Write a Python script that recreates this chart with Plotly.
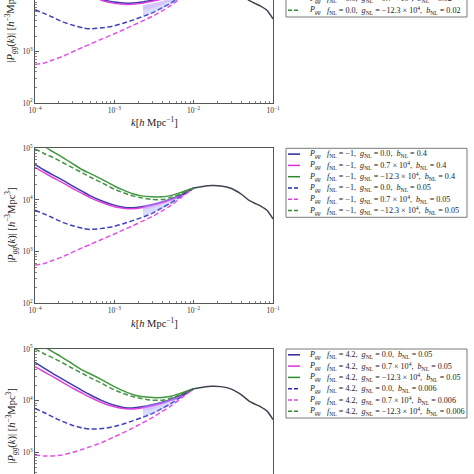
import plotly.graph_objects as go

# ---------------- data ----------------
k_low = [1.0e-4, 1.3e-4, 1.7e-4, 2.2e-4, 3e-4, 4e-4, 5e-4, 7e-4, 1e-3, 1.3e-3,
         1.7e-3, 2.2e-3, 3e-3, 4e-3, 5e-3, 7e-3, 1e-2]
k_high = [1e-2, 1.3e-2, 1.7e-2, 2.2e-2, 3e-2, 4e-2, 5e-2, 6e-2, 7e-2, 8.5e-2, 1e-1]
P_high = [17000, 18200, 19000, 18700, 16700, 12900, 9800, 8500, 7600, 6200, 4300]

k_band = [2.3e-3, 3e-3, 4e-3, 5e-3, 6e-3, 7e-3]
band_lo = [4790, 5500, 6760, 8130, 9550, 11700]
band_mid = [6310, 6920, 8130, 9330, 10700, 12300]
band_hi = [7940, 8510, 9550, 10700, 11700, 12600]

# panel 1 (f_NL = 0.0)
P1_sb = [58000, 45000, 35000, 27800, 21000, 16300, 13700, 10300, 9100, 8700, 8700, 9100, 9900, 10800, 11800, 13700, 17000]
P1_sm = [52000, 40300, 32000, 25300, 19200, 15000, 12500, 9800, 8600, 8250, 8250, 8600, 9500, 10400, 11300, 13400, 17000]
P1_sg = [150000, 116000, 90000, 71000, 53000, 40000, 34000, 26500, 19800, 16600, 14200, 13000, 12400, 12300, 12700, 14500, 17000]
P1_db = [6460, 5500, 4570, 3800, 3240, 2880, 2750, 2880, 3160, 3550, 4070, 4680, 5620, 7080, 8510, 12000, 17000]
P1_dm = [560, 600, 690, 800, 990, 1210, 1400, 1760, 2210, 2650, 3190, 3830, 4800, 6170, 7590, 11200, 17000]
P1_dg = [100000, 81000, 67000, 54500, 42000, 33300, 27700, 21500, 16500, 14000, 12300, 11300, 10600, 10500, 11200, 13300, 17000]

# panel 2 (f_NL = -1)
P2_sb = [49000, 38000, 30200, 24500, 18600, 14500, 12000, 9550, 7940, 7240, 7080, 7410, 8130, 9120, 10200, 12600, 17000]
P2_sm = [42700, 33900, 26900, 21900, 16600, 13200, 11000, 8910, 7410, 6920, 6760, 7080, 7940, 8910, 10000, 12300, 17000]
P2_sg = [141000, 110000, 85000, 67600, 50100, 38000, 32400, 25100, 18600, 15500, 13200, 12000, 11500, 11500, 12000, 14100, 17000]
P2_db = [6310, 5370, 4470, 3720, 3160, 2820, 2690, 2820, 3090, 3470, 3980, 4570, 5500, 7080, 8510, 12000, 17000]
P2_dm = [550, 590, 680, 790, 980, 1200, 1380, 1740, 2190, 2630, 3160, 3800, 4790, 6170, 7590, 11200, 17000]
P2_dg = [97700, 79400, 66100, 53700, 41700, 33100, 27500, 21400, 16200, 13800, 12000, 11000, 10200, 10200, 11000, 13200, 17000]

# panel 3 (f_NL = 4.2)
P3_sb = [55000, 42700, 33100, 26300, 20000, 15500, 12900, 10000, 8130, 7410, 7240, 7590, 8320, 9330, 10500, 12900, 17000]
P3_sm = [45700, 36300, 28800, 22900, 17400, 13800, 11500, 9120, 7590, 7080, 6920, 7240, 7940, 8910, 10000, 12300, 17000]
P3_sg = [145000, 112000, 87000, 69000, 51000, 38500, 32800, 25300, 18700, 15500, 13200, 12000, 11500, 11500, 12000, 14100, 17000]
P3_db = [7080, 5890, 4790, 3980, 3310, 2950, 2820, 2880, 3160, 3550, 4070, 4680, 5620, 7080, 8510, 12000, 17000]
P3_dm = [890, 850, 850, 890, 1000, 1150, 1290, 1550, 2000, 2400, 2950, 3630, 4680, 6170, 7590, 11200, 17000]
P3_dg = [100000, 81000, 67000, 54500, 42000, 33300, 27700, 21500, 16200, 13800, 12000, 11000, 10200, 10200, 11000, 13200, 17000]

fNL_labels = ["0.0", "\u22121", "4.2"]
gNL_labels = ["0.0", "0.7 \u00d7 10<sup>4</sup>", "\u221212.3 \u00d7 10<sup>4</sup>"] * 2
bNL_labels = [["0.16"] * 3 + ["0.02"] * 3,
              ["0.4"] * 3 + ["0.05"] * 3,
              ["0.05"] * 3 + ["0.006"] * 3]

x_ticks = [1e-4, 1e-3, 1e-2, 1e-1]
x_ticktext = ["10<sup>\u22124</sup>", "10<sup>\u22123</sup>", "10<sup>\u22122</sup>", "10<sup>\u22121</sup>"]
y_ticks = [1e2, 1e3, 1e4, 1e5]
y_ticktext = ["10<sup>2</sup>", "10<sup>3</sup>", "10<sup>4</sup>", "10<sup>5</sup>"]

# ---------------- layout helpers ----------------
W = H = 474
def px(x):
    return x / W
def py(y):
    return 1 - y / H

FONT = "Liberation Serif"
colors = ["#28289e", "#dd30dd", "#2e8b2e", "#2b2bb8", "#e040e0", "#2e8b2e"]
dashes = ["solid", "solid", "solid", "5px,2.6px", "5px,2.6px", "5px,2.6px"]

panels = [
    dict(series=[P1_sb, P1_sm, P1_sg, P1_db, P1_dm, P1_dg], ax="", top=-52.0, bottom=103.0,
         yrange=[2, 4.0], ydom=[py(103), 1.0]),
    dict(series=[P2_sb, P2_sm, P2_sg, P2_db, P2_dm, P2_dg], ax="2", top=148.3, bottom=303.3,
         yrange=[2, 5], ydom=[py(303.3), py(148.3)]),
    dict(series=[P3_sb, P3_sm, P3_sg, P3_db, P3_dm, P3_dg], ax="3", top=349.0, bottom=504.0,
         yrange=[5 - 125 / 51.67, 5], ydom=[0.0, py(349)]),
]

fig = go.Figure()
shapes = []
annotations = []

minor_x = [m * 10 ** e for e in (-4, -3, -2) for m in range(2, 10)]
minor_y = [m * 10 ** e for e in (2, 3, 4) for m in range(2, 10)]

for pi, p in enumerate(panels):
    xa = "x" + p["ax"]
    ya = "y" + p["ax"]
    for si, ser in enumerate(p["series"]):
        fig.add_trace(go.Scatter(x=k_low, y=ser, mode="lines", xaxis=xa, yaxis=ya,
                                 line=dict(color=colors[si], width=1.5, dash=dashes[si], shape="spline", smoothing=0.6),
                                 opacity=0.9, showlegend=False, hoverinfo="skip"))
    # shaded uncertainty bands
    fig.add_trace(go.Scatter(x=k_band, y=band_lo, mode="lines", xaxis=xa, yaxis=ya,
                             line=dict(width=0), showlegend=False, hoverinfo="skip"))
    fig.add_trace(go.Scatter(x=k_band, y=band_hi, mode="lines", xaxis=xa, yaxis=ya, fill="tonexty",
                             fillcolor="rgba(130,140,255,0.30)", line=dict(width=0),
                             showlegend=False, hoverinfo="skip"))
    fig.add_trace(go.Scatter(x=k_band, y=band_mid, mode="lines", xaxis=xa, yaxis=ya,
                             line=dict(width=0), showlegend=False, hoverinfo="skip"))
    fig.add_trace(go.Scatter(x=k_band, y=band_hi, mode="lines", xaxis=xa, yaxis=ya, fill="tonexty",
                             fillcolor="rgba(205,140,255,0.28)", line=dict(width=0),
                             showlegend=False, hoverinfo="skip"))
    # common high-k part
    fig.add_trace(go.Scatter(x=k_high, y=P_high, mode="lines", xaxis=xa, yaxis=ya,
                             line=dict(color="#3e4352", width=1.5, shape="spline", smoothing=0.6),
                             showlegend=False, hoverinfo="skip"))

    # ----- manual legend -----
    box_top = p["top"]
    box_bot = p["top"] + 69
    shapes.append(dict(type="rect", xref="paper", yref="paper", x0=px(286), x1=px(467),
                       y0=py(box_bot), y1=py(box_top), line=dict(color="#7a7a7a", width=1),
                       fillcolor="white", layer="above"))
    for i in range(6):
        yc = box_top + 5.8 + i * 11.3
        shapes.append(dict(type="line", xref="paper", yref="paper", x0=px(288), x1=px(300),
                           y0=py(yc), y1=py(yc), layer="above",
                           line=dict(color=colors[i], width=1.5,
                                     dash="solid" if i < 3 else "4px,2px")))
        annotations.append(dict(xref="paper", yref="paper", x=px(307), y=py(yc),
                                xanchor="left", yanchor="middle", showarrow=False,
                                text="<i>P</i><sub><i>gg</i></sub>",
                                font=dict(family=FONT, size=8.1, color="#222")))
        annotations.append(dict(xref="paper", yref="paper", x=px(325), y=py(yc),
                                xanchor="left", yanchor="middle", showarrow=False,
                                text=("<i>f</i><sub>NL</sub> = " + fNL_labels[pi] + ",  "
                                      "<i>g</i><sub>NL</sub> = " + gNL_labels[i] + ",  "
                                      "<i>b</i><sub>NL</sub> = " + bNL_labels[pi][i]),
                                font=dict(family=FONT, size=8.1, color="#222")))

    # y title
    yc_title = (p["top"] + p["bottom"]) / 2
    annotations.append(dict(xref="paper", yref="paper", x=px(11), y=py(yc_title),
                            xanchor="center", yanchor="middle", showarrow=False, textangle=-90,
                            text="|<i>P</i><sub><i>gg</i></sub>(<i>k</i>)| [<i>h</i><sup>\u22123</sup>Mpc<sup>3</sup>]",
                            font=dict(family=FONT, size=10.5, color="#222")))
    # x title
    if pi < 2:
        annotations.append(dict(xref="paper", yref="paper", x=px(154), y=py(p["bottom"] + 19),
                                xanchor="center", yanchor="middle", showarrow=False,
                                text="<i>k</i>[<i>h</i> Mpc<sup>\u22121</sup>]",
                                font=dict(family=FONT, size=10.5, color="#222")))

layout_axes = {}
for pi, p in enumerate(panels):
    suffix = p["ax"]
    xname = "xaxis" + suffix
    yname = "yaxis" + suffix
    xa = dict(type="log", domain=[px(35), px(273)], range=[-4, -1], anchor="y" + suffix,
              tickvals=x_ticks, ticktext=x_ticktext, ticks="inside", ticklen=3.5, tickwidth=0.8,
              tickcolor="#333", showline=True, linecolor="#555", linewidth=1, showgrid=False,
              zeroline=False, tickfont=dict(family=FONT, size=7.5, color="#333"),
              minor=dict(tickvals=minor_x, ticks="inside", ticklen=2, tickwidth=0.6, tickcolor="#333", showgrid=False),
              mirror=(pi == 1))
    if pi == 2:
        xa.update(side="top", showticklabels=False, ticks="", minor=dict(ticks="", showgrid=False), mirror=False)
    ya = dict(type="log", domain=p["ydom"], range=p["yrange"], anchor="x" + suffix,
              tickvals=y_ticks, ticktext=y_ticktext, ticks="inside", ticklen=3.5, tickwidth=0.8,
              tickcolor="#333", showline=True, linecolor="#555", linewidth=1, showgrid=False,
              zeroline=False, tickfont=dict(family=FONT, size=7.5, color="#333"),
              minor=dict(tickvals=minor_y, ticks="inside", ticklen=2, tickwidth=0.6, tickcolor="#333", showgrid=False),
              mirror=True)
    layout_axes[xname] = xa
    layout_axes[yname] = ya

fig.update_layout(width=W, height=H, margin=dict(l=0, r=0, t=0, b=0, autoexpand=False),
                  paper_bgcolor="white", plot_bgcolor="white", showlegend=False,
                  shapes=shapes, annotations=annotations, **layout_axes)

fig.write_html("out.html", config={"displayModeBar": False, "staticPlot": True},
               post_script="document.body.style.margin='0px';document.body.style.overflow='hidden';")
